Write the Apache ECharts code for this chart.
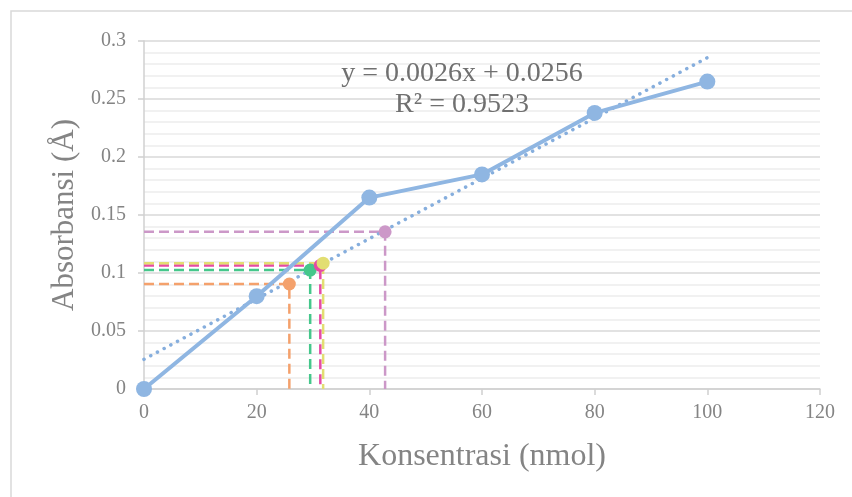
<!DOCTYPE html>
<html>
<head>
<meta charset="utf-8">
<script src="https://cdn.jsdelivr.net/npm/echarts@6/dist/echarts.min.js"></script>
<style>
  html, body { margin: 0; padding: 0; background: #fff; }
  #chart { width: 852px; height: 497px; }
</style>
</head>
<body>
<div id="chart"></div>
<script>
// standard curve
const konsentrasi = [0, 20, 40, 60, 80, 100];
const absorbansi = [0, 0.08, 0.165, 0.185, 0.238, 0.265];

// linear trendline ends (y = 0.0026x + 0.0256)
const trendX = [0, 100];
const trendY = [0.0256, 0.2856];

// sample readings
const sampleX = [25.8, 29.5, 31.3, 31.8, 42.8];
const sampleY = [0.0905, 0.1025, 0.1065, 0.1085, 0.1355];
const sampleColors = ['#f4a16c', '#45c78b', '#e64aa5', '#e2de72', '#cc98c8'];

const xTicks = [0, 20, 40, 60, 80, 100, 120];
const yTicks = [0, 0.05, 0.1, 0.15, 0.2, 0.25, 0.3];

const serif = '"Liberation Serif", "DejaVu Serif", serif';
const textGrey = '#848484';

const chart = echarts.init(document.getElementById('chart'));

const series = [];

// dashed guide lines for each sample
sampleX.forEach((x, i) => {
    const y = sampleY[i];
    series.push({
        type: 'line',
        data: [[0, y], [x, y], [x, 0]],
        symbol: 'none',
        silent: true,
        z: 3,
        lineStyle: {color: sampleColors[i], width: 2.5, type: [10, 5]}
    });
});

series.push({
    name: 'trend',
    type: 'line',
    data: trendX.map((x, i) => [x, trendY[i]]),
    symbol: 'none',
    z: 4,
    lineStyle: {color: '#86aedd', width: 3.5, type: [0.1, 7.5], cap: 'round'}
});

series.push({
    name: 'standar',
    type: 'line',
    data: konsentrasi.map((x, i) => [x, absorbansi[i]]),
    symbol: 'circle',
    symbolSize: 16,
    z: 5,
    itemStyle: {color: '#8fb6e2'},
    lineStyle: {color: '#8fb6e2', width: 4}
});

sampleX.forEach((x, i) => {
    series.push({
        type: 'scatter',
        data: [[x, sampleY[i]]],
        symbolSize: 13,
        z: 6,
        itemStyle: {color: sampleColors[i], opacity: 1}
    });
});

chart.setOption({
    animation: false,
    backgroundColor: '#fff',
    graphic: [
        {
            type: 'rect',
            z: -10,
            shape: {x: 11, y: 11, width: 900, height: 600},
            style: {fill: 'none', stroke: '#d9d9d9', lineWidth: 1.5}
        },
        {
            type: 'text',
            x: 462, y: 58,
            z: 10,
            style: {
                text: 'y = 0.0026x + 0.0256\nR² = 0.9523',
                font: '28px ' + serif,
                fill: '#707070',
                align: 'center',
                verticalAlign: 'top',
                lineHeight: 31
            }
        }
    ],
    grid: {left: 144, right: 32, top: 41, bottom: 108},
    xAxis: {
        type: 'value',
        min: 0,
        max: 120,
        interval: 20,
        name: 'Konsentrasi (nmol)',
        nameLocation: 'middle',
        nameGap: 52,
        nameTextStyle: {fontFamily: serif, fontSize: 32, color: textGrey},
        axisLine: {show: true, lineStyle: {color: '#d0d0d0', width: 1.5}},
        axisTick: {show: true, length: 6, lineStyle: {color: '#d0d0d0', width: 1.5}},
        axisLabel: {
            fontFamily: serif, fontSize: 20, color: textGrey, margin: 14,
            formatter: v => xTicks.includes(v) ? String(v) : ''
        },
        splitLine: {show: false}
    },
    yAxis: {
        type: 'value',
        min: 0,
        max: 0.3,
        interval: 0.05,
        name: 'Absorbansi (Å)',
        nameLocation: 'middle',
        nameGap: 64,
        nameTextStyle: {fontFamily: serif, fontSize: 31, color: textGrey},
        axisLine: {show: true, lineStyle: {color: '#d0d0d0', width: 1.5}},
        axisTick: {show: true, length: 6, lineStyle: {color: '#d0d0d0', width: 1.5}},
        axisLabel: {
            fontFamily: serif, fontSize: 20, color: textGrey, margin: 18,
            formatter: v => {
                const t = yTicks.find(k => Math.abs(k - v) < 1e-9);
                return t === undefined ? '' : String(+t.toFixed(2));
            }
        },
        splitLine: {show: true, lineStyle: {color: '#d9d9d9', width: 1.5}},
        minorTick: {show: false, splitNumber: 5},
        minorSplitLine: {show: true, lineStyle: {color: '#ededed', width: 1.5}}
    },
    series: series
});
</script>
</body>
</html>
